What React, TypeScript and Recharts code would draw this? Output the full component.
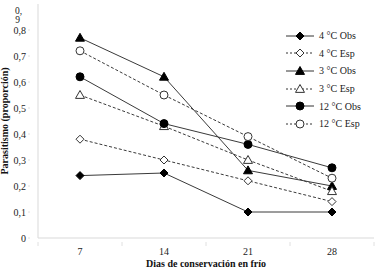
import { LineChart, Line, XAxis, YAxis } from "recharts";

const days = ["7", "14", "21", "28"];
const obs4 = [0.24, 0.25, 0.1, 0.1];
const esp4 = [0.38, 0.3, 0.22, 0.14];
const obs3 = [0.77, 0.62, 0.26, 0.2];
const esp3 = [0.55, 0.43, 0.3, 0.18];
const obs12 = [0.62, 0.44, 0.36, 0.27];
const esp12 = [0.72, 0.55, 0.39, 0.23];
const yTicks = [0, 0.1, 0.2, 0.3, 0.4, 0.5, 0.6, 0.7, 0.8, 0.9];

const data = days.map((d, i) => ({
  day: d,
  obs4: obs4[i],
  esp4: esp4[i],
  obs3: obs3[i],
  esp3: esp3[i],
  obs12: obs12[i],
  esp12: esp12[i],
}));

const FONT = "'Liberation Serif', 'Times New Roman', serif";

const series = [
  { key: "obs4", name: "4 °C Obs", shape: "diamond", filled: true, dashed: false },
  { key: "esp4", name: "4 °C Esp", shape: "diamond", filled: false, dashed: true },
  { key: "obs3", name: "3 °C Obs", shape: "triangle", filled: true, dashed: false },
  { key: "esp3", name: "3 °C Esp", shape: "triangle", filled: false, dashed: true },
  { key: "obs12", name: "12 °C Obs", shape: "circle", filled: true, dashed: false },
  { key: "esp12", name: "12 °C Esp", shape: "circle", filled: false, dashed: true },
];

function Marker({ cx, cy, shape, filled }: any) {
  if (cx == null || cy == null) return null;
  const fill = filled ? "#000" : "#fff";
  const stroke = filled ? "#000" : "#333";
  if (shape === "diamond") {
    const r = 4;
    return (
      <polygon
        points={`${cx},${cy - r} ${cx + r},${cy} ${cx},${cy + r} ${cx - r},${cy}`}
        fill={fill}
        stroke={stroke}
        strokeWidth={1}
      />
    );
  }
  if (shape === "triangle") {
    const r = 4.5;
    return (
      <polygon
        points={`${cx},${cy - r} ${cx + r},${cy + r * 0.75} ${cx - r},${cy + r * 0.75}`}
        fill={fill}
        stroke={stroke}
        strokeWidth={1}
      />
    );
  }
  return <circle cx={cx} cy={cy} r={4} fill={fill} stroke={stroke} strokeWidth={1} />;
}

function YTick({ x, y, payload }: any) {
  const v = payload.value;
  if (v === 0.9) {
    // the source wraps this label onto two lines
    return (
      <text x={x - 4} y={y} textAnchor="end" fontFamily={FONT} fontSize={9.5} fill="#222">
        <tspan x={x - 8} dy={10}>0,</tspan>
        <tspan x={x - 10} dy={9}>9</tspan>
      </text>
    );
  }
  const label = v === 0 ? "0" : v.toFixed(1).replace(".", ",");
  return (
    <g>
      <line x1={x - 2} y1={y} x2={x} y2={y} stroke="#e0e0e0" />
      <text x={x - 4} y={y + 3.5} textAnchor="end" fontFamily={FONT} fontSize={10} fill="#222">
        {label}
      </text>
    </g>
  );
}

function XTick({ x, y, payload, index }: any) {
  // band width from 4 categories across the plot (336px)
  const half = 42;
  return (
    <g>
      <line x1={x - half} y1={y - 4} x2={x - half} y2={y} stroke="#e0e0e0" />
      {index === days.length - 1 && <line x1={x + half} y1={y - 4} x2={x + half} y2={y} stroke="#e0e0e0" />}
      <text x={x} y={y + 9} textAnchor="middle" fontFamily={FONT} fontSize={10} fill="#222">
        {payload.value}
      </text>
    </g>
  );
}

function LegendBox() {
  return (
    <div
      style={{
        position: "absolute",
        left: 286,
        top: 27,
        fontFamily: FONT,
        fontSize: 10,
        color: "#222",
      }}
    >
      {series.map((s) => (
        <div key={s.key} style={{ display: "flex", alignItems: "center", height: 17.6 }}>
          <svg width={30} height={12}>
            <line
              x1={0}
              y1={6}
              x2={28}
              y2={6}
              stroke="#333"
              strokeWidth={1}
              strokeDasharray={s.dashed ? "2 2" : undefined}
            />
            <Marker cx={14} cy={6} shape={s.shape} filled={s.filled} />
          </svg>
          <span style={{ marginLeft: 3 }}>{s.name}</span>
        </div>
      ))}
    </div>
  );
}

export default function App() {
  return (
    <div style={{ position: "absolute", left: 0, top: 0, width: 378, height: 273, background: "#fff" }}>
      <LineChart width={378} height={273} data={data} margin={{ top: 4, right: 4, left: 0, bottom: 0 }}>
        <XAxis
          dataKey="day"
          scale="band"
          height={35}
          axisLine={{ stroke: "#d9d9d9" }}
          tickLine={false}
          tick={<XTick />}
          interval={0}
          label={{
            value: "Dias de conservación en frío",
            position: "insideBottom",
            offset: 6,
            style: { fontFamily: FONT, fontSize: 10, fontWeight: "bold", fill: "#111" },
          }}
        />
        <YAxis
          width={38}
          domain={[0, 0.9]}
          ticks={yTicks}
          interval={0}
          axisLine={{ stroke: "#d9d9d9" }}
          tickLine={false}
          tick={<YTick />}
          label={{
            value: "Parasitismo (proporción)",
            angle: -90,
            position: "insideLeft",
            offset: 4,
            style: { fontFamily: FONT, fontSize: 10, fontWeight: "bold", fill: "#111", textAnchor: "middle" },
          }}
        />
        {series.map((s) => (
          <Line
            key={s.key}
            dataKey={s.key}
            name={s.name}
            stroke="#3a3a3a"
            strokeWidth={1}
            strokeDasharray={s.dashed ? "3 2" : undefined}
            dot={(p: any) => <Marker key={`${s.key}-${p.index}`} cx={p.cx} cy={p.cy} shape={s.shape} filled={s.filled} />}
            activeDot={false}
            isAnimationActive={false}
          />
        ))}
      </LineChart>
      <LegendBox />
    </div>
  );
}
